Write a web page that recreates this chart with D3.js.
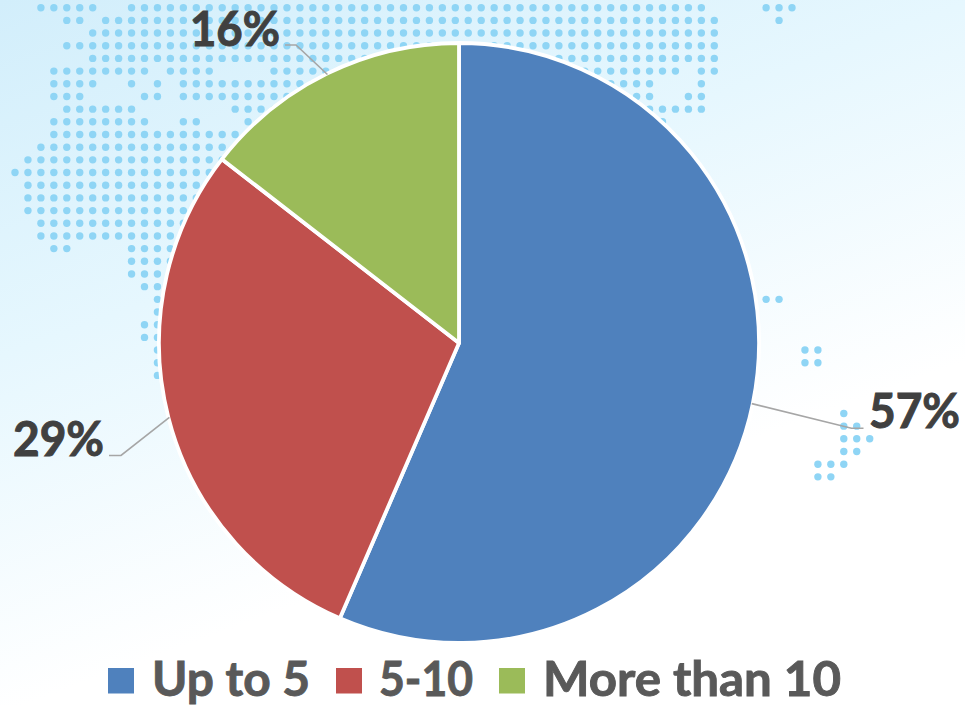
<!DOCTYPE html>
<html>
<head>
<meta charset="utf-8">
<script src="https://cdn.jsdelivr.net/npm/d3@7"></script>
<style>html,body{margin:0;padding:0;background:#fff;overflow:hidden}svg{display:block}</style>
</head>
<body>
<div id="chart"></div>
<script>
const categories = ["Up to 5", "5-10", "More than 10"];
const shares = [56.5, 29.0, 14.5];
const shareLabels = ["57%", "29%", "16%"];
const colors = ["#4f81bd", "#c0504d", "#9bbb59"];
// background map: [row, first column, last column]
const mapRuns = [
[0,2,6],[0,9,53],[0,58,60],[1,4,5],[1,7,54],[1,59,59],[2,6,54],[3,4,54],[4,6,54],
[5,3,10],[5,12,15],[5,20,51],[5,53,54],[6,3,6],[6,9,9],[6,11,11],[6,13,49],[6,53,53],
[7,3,5],[7,10,11],[7,13,49],[7,52,53],[8,4,9],[8,17,53],[9,3,10],[9,13,14],[9,18,50],
[10,3,17],[11,2,17],[12,1,16],[13,0,16],[14,1,15],[15,1,14],[16,1,14],[17,2,13],[18,2,13],
[19,3,4],[19,9,13],[20,9,12],[21,9,12],[22,10,12],[23,11,12],[23,58,59],[24,11,12],[25,10,12],[26,10,12],
[27,11,12],[27,61,62],[28,11,12],[28,61,62],[29,11,12],
[32,64,64],[33,64,65],[34,64,66],[35,64,65],[36,62,64],[37,62,63]
];

const W = 965, H = 705;
const svg = d3.select("#chart").append("svg").attr("width", W).attr("height", H);
const defs = svg.append("defs");
const bg = defs.append("linearGradient").attr("id", "bg")
  .attr("gradientUnits", "userSpaceOnUse")
  .attr("x1", 0).attr("y1", 0).attr("x2", 230).attr("y2", 630);
bg.append("stop").attr("offset", "0").attr("stop-color", "#d2eefb");
bg.append("stop").attr("offset", "0.5").attr("stop-color", "#e6f7fe");
bg.append("stop").attr("offset", "1").attr("stop-color", "#ffffff");
svg.append("rect").attr("width", W).attr("height", H).attr("fill", "url(#bg)");

const colX = d3.scaleLinear().domain([0, 1]).range([15, 27.95]);
const rowY = d3.scaleLinear().domain([0, 1]).range([7.7, 20.38]);
const dots = mapRuns.flatMap(([r, a, b]) => d3.range(a, b + 1).map(c => ({r, c})));
svg.append("g").selectAll("circle").data(dots).join("circle")
  .attr("cx", d => colX(d.c)).attr("cy", d => rowY(d.r)).attr("r", 3.7)
  .attr("fill", "#8fd5f5");

const cx = 459, cy = 343, R = 300;
const pie = d3.pie().sort(null).value(d => d)(shares);
const arc = d3.arc().innerRadius(0).outerRadius(R);
const g = svg.append("g").attr("transform", `translate(${cx},${cy})`);
g.selectAll("path").data(pie).join("path")
  .attr("d", arc).attr("fill", (d, i) => colors[i])
  .attr("stroke", "#fff").attr("stroke-width", 3.8).attr("stroke-linejoin", "round");

// leader lines start at each slice's mid angle on the rim
const labelAnchors = [
  {elbow: [851.5, 428.3], end: [863.5, 428.3], x: 869, y: 428, w: 91},
  {elbow: [121, 455.5], end: [109, 455.5], x: 13, y: 456, w: 91},
  {elbow: [296, 45], end: [285, 45], x: 190, y: 46, w: 90}
];
const line = d3.line();
svg.append("g").selectAll("path").data(pie).join("path")
  .attr("d", (d, i) => {
    const mid = (d.startAngle + d.endAngle) / 2;
    const p = d3.pointRadial(mid, R - 1);
    return line([[cx + p[0], cy + p[1]], labelAnchors[i].elbow, labelAnchors[i].end]);
  })
  .attr("fill", "none").attr("stroke", "#a6a6a6").attr("stroke-width", 1.6);

const font = "Lato, 'Open Sans', sans-serif";
svg.append("g").selectAll("text").data(shareLabels).join("text")
  .attr("x", (d, i) => labelAnchors[i].x).attr("y", (d, i) => labelAnchors[i].y)
  .attr("textLength", (d, i) => labelAnchors[i].w).attr("lengthAdjust", "spacingAndGlyphs")
  .attr("font-family", font).attr("font-weight", 700).attr("font-size", 48)
  .attr("stroke", "#404040").attr("stroke-width", 1)
  .attr("fill", "#404040").text(d => d);

const legendSwatchX = [108, 336, 499], legendTextX = [152, 379, 543], legendTextW = [158, 94, 298];
const legend = svg.append("g").selectAll("g").data(categories).join("g");
legend.append("rect")
  .attr("x", (d, i) => legendSwatchX[i]).attr("y", 668).attr("width", 26).attr("height", 25.5)
  .attr("fill", (d, i) => colors[i]);
legend.append("text")
  .attr("x", (d, i) => legendTextX[i]).attr("y", 695.5)
  .attr("textLength", (d, i) => legendTextW[i]).attr("lengthAdjust", "spacingAndGlyphs")
  .attr("font-family", font).attr("font-weight", 700).attr("font-size", 47)
  .attr("stroke", "#595959").attr("stroke-width", 0.9)
  .attr("fill", "#595959").text(d => d);
</script>
</body>
</html>
